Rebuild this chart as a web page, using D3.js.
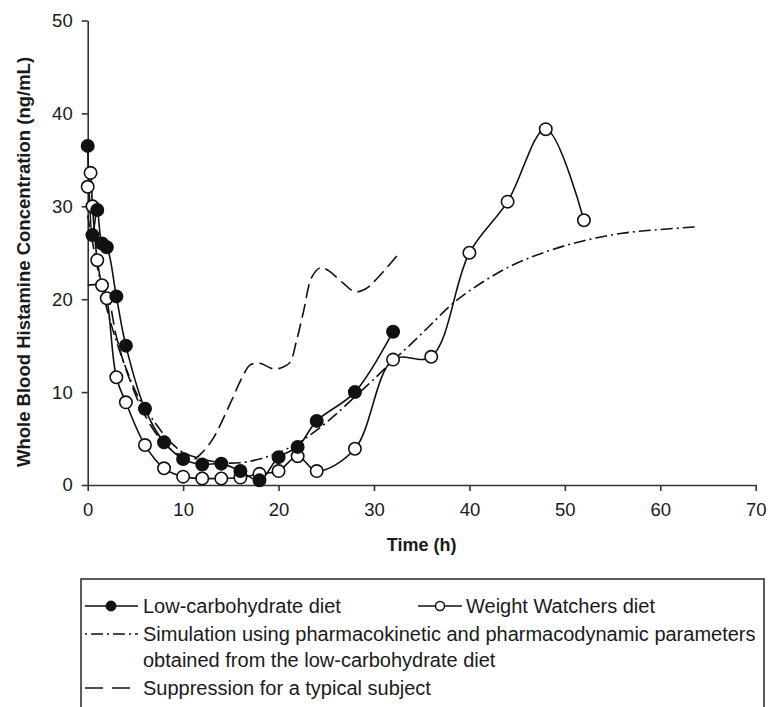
<!DOCTYPE html>
<html>
<head>
<meta charset="utf-8">
<script src="https://cdnjs.cloudflare.com/ajax/libs/d3/7.8.5/d3.min.js"></script>
<style>
  body { margin: 0; background: #fff; }
  svg { display: block; }
  text { font-family: "Liberation Sans", Arial, Helvetica, sans-serif; fill: #1a1a1a; }
</style>
</head>
<body>
<div id="chart"></div>
<script>
// DATA
var lowCarbTime  = [0, 0.5, 1, 1.5, 2, 3, 4, 6, 8, 10, 12, 14, 16, 18, 20, 22, 24, 28, 32];
var lowCarbConc  = [36.5, 26.9, 29.6, 26.0, 25.6, 20.3, 15.0, 8.2, 4.6, 2.8, 2.2, 2.3, 1.5, 0.5, 3.0, 4.1, 6.9, 10.0, 16.5];

var wwTime = [0, 0.3, 0.5, 1, 1.5, 2, 3, 4, 6, 8, 10, 12, 14, 16, 18, 20, 22, 24, 28, 32, 36, 40, 44, 48, 52];
var wwConc = [32.1, 33.6, 30.0, 24.2, 21.5, 20.1, 11.6, 8.9, 4.3, 1.8, 0.9, 0.7, 0.7, 0.8, 1.2, 1.5, 3.1, 1.5, 3.9, 13.5, 13.8, 25.0, 30.5, 38.3, 28.5];

var simTime = [0, 1, 2, 3, 4, 5, 6, 7, 8, 9, 10, 12, 14, 16, 18, 20, 22, 24, 26, 28, 30, 32, 34, 36, 38, 40, 44, 48, 52, 56, 60, 64];
var simConc = [29, 23.5, 19, 15.5, 12.6, 10.1, 8.2, 6.8, 5.4, 4.3, 3.5, 2.8, 2.4, 2.4, 2.8, 3.5, 4.5, 5.9, 7.6, 9.5, 11.4, 13.4, 15.3, 17.3, 19.3, 20.9, 23.4, 25.1, 26.3, 27.1, 27.5, 27.8];

var supTime = [0, 1, 2, 3, 4, 6, 8, 10, 11, 12, 13.2, 14.9, 16.2, 17, 18, 19.5, 20.5, 21.2, 21.9, 22.6, 23.5, 24.4, 25.2, 26.8, 28, 29.1, 30.3, 32.6];
var supConc = [21.5, 21.5, 20.5, 16, 12.5, 7.5, 4.5, 3.0, 2.7, 3.5, 5.1, 8.7, 11.6, 12.9, 13.1, 12.5, 12.7, 13.2, 15.6, 18.6, 22.4, 23.4, 23.1, 21.7, 20.8, 21.1, 22.2, 24.9];

var xTicks = [0, 10, 20, 30, 40, 50, 60, 70];
var yTicks = [0, 10, 20, 30, 40, 50];

var xLabel = "Time (h)";
var yLabel = "Whole Blood Histamine Concentration (ng/mL)";

var legendRows = [
  "Low-carbohydrate diet",
  "Weight Watchers diet",
  "Simulation using pharmacokinetic and pharmacodynamic parameters",
  "obtained from the low-carbohydrate diet",
  "Suppression for a typical subject"
];

// SIZES
var W = 770, H = 707;
var plot = {left: 87.7, right: 755.7, top: 20.5, bottom: 485};
var markerR = 6.2;

var svg = d3.select("#chart").append("svg")
    .attr("width", W).attr("height", H);

var x = d3.scaleLinear().domain([0, 70]).range([plot.left, plot.right]);
var y = d3.scaleLinear().domain([0, 50]).range([plot.bottom, plot.top]);

function zip(t, v) { return t.map(function(d, i) { return {t: d, v: v[i]}; }); }
var lowCarb = zip(lowCarbTime, lowCarbConc),
    ww = zip(wwTime, wwConc),
    sim = zip(simTime, simConc),
    sup = zip(supTime, supConc);

// AXES
var xAxis = svg.append("g")
    .attr("transform", "translate(0," + plot.bottom + ")")
    .call(d3.axisBottom(x).tickValues(xTicks).tickSize(6).tickSizeOuter(0).tickPadding(12));
var yAxis = svg.append("g")
    .attr("transform", "translate(" + plot.left + ",0)")
    .call(d3.axisLeft(y).tickValues(yTicks).tickSize(6).tickSizeOuter(0).tickPadding(9));

[xAxis, yAxis].forEach(function(a) {
  a.selectAll("path, line").attr("stroke", "#333").attr("stroke-width", 1.6);
  a.selectAll("text").style("font-size", "18.5px").attr("fill", "#1a1a1a");
});

svg.append("text")
    .attr("x", (plot.left + plot.right) / 2).attr("y", 551)
    .attr("text-anchor", "middle")
    .style("font-size", "18px").style("font-weight", "bold")
    .text(xLabel);

svg.append("text")
    .attr("transform", "translate(30,262)rotate(-90)")
    .attr("text-anchor", "middle")
    .style("font-size", "18.5px").style("font-weight", "bold")
    .text(yLabel);

// LINES
var line = d3.line()
    .x(function(d) { return x(d.t); })
    .y(function(d) { return y(d.v); })
    .curve(d3.curveCatmullRom.alpha(0.5));

svg.append("path").datum(sim)
    .attr("d", line).attr("fill", "none")
    .attr("stroke", "#111").attr("stroke-width", 1.6)
    .attr("stroke-dasharray", "12,4,2,4");

svg.append("path").datum(sup)
    .attr("d", line).attr("fill", "none")
    .attr("stroke", "#111").attr("stroke-width", 1.6)
    .attr("stroke-dasharray", "14,6");

svg.append("path").datum(ww)
    .attr("d", line).attr("fill", "none")
    .attr("stroke", "#111").attr("stroke-width", 1.6);

svg.append("path").datum(lowCarb)
    .attr("d", line).attr("fill", "none")
    .attr("stroke", "#111").attr("stroke-width", 1.6);

// MARKERS
svg.append("g").selectAll("circle").data(ww).join("circle")
    .attr("cx", function(d) { return x(d.t); })
    .attr("cy", function(d) { return y(d.v); })
    .attr("r", markerR)
    .attr("fill", "#fff").attr("stroke", "#111").attr("stroke-width", 1.6);

svg.append("g").selectAll("circle").data(lowCarb).join("circle")
    .attr("cx", function(d) { return x(d.t); })
    .attr("cy", function(d) { return y(d.v); })
    .attr("r", markerR)
    .attr("fill", "#111").attr("stroke", "#111").attr("stroke-width", 1.6);

// LEGEND
var lg = svg.append("g");
lg.append("rect")
    .attr("x", 81).attr("y", 579).attr("width", 683).attr("height", 150)
    .attr("fill", "none").attr("stroke", "#333").attr("stroke-width", 1.6);

var rowY = [606, 606, 634, 660, 688];
var lgFont = "20px";

function sample(x1, x2, yy, dash) {
  lg.append("line")
      .attr("x1", x1).attr("x2", x2).attr("y1", yy).attr("y2", yy)
      .attr("stroke", "#111").attr("stroke-width", 1.5)
      .attr("stroke-dasharray", dash || null);
}

sample(85, 138, rowY[0]);
lg.append("circle").attr("cx", 111).attr("cy", rowY[0]).attr("r", 5)
    .attr("fill", "#111").attr("stroke", "#111");
sample(418, 462, rowY[1]);
lg.append("circle").attr("cx", 440).attr("cy", rowY[1]).attr("r", 4.5)
    .attr("fill", "#fff").attr("stroke", "#111").attr("stroke-width", 1.5);
sample(85, 138, rowY[2], "2,4,12,4");
sample(85, 138, rowY[4], "18,9");

var textX = [143, 466, 143, 143, 143];
legendRows.forEach(function(s, i) {
  lg.append("text")
      .attr("x", textX[i]).attr("y", rowY[i] + 7)
      .style("font-size", lgFont)
      .text(s);
});
</script>
</body>
</html>
